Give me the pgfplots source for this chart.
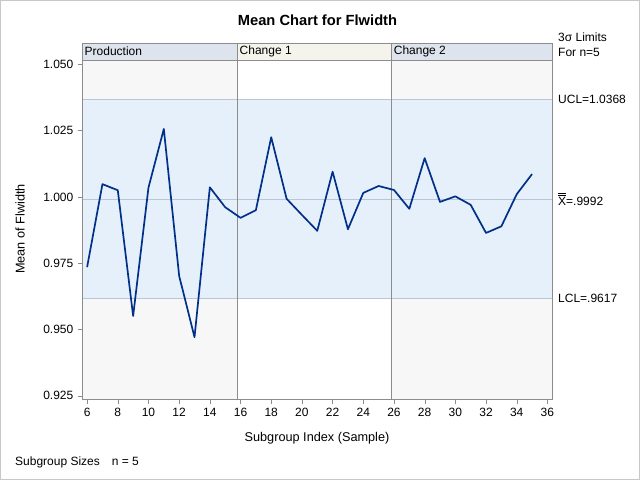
\documentclass[border=0pt]{standalone}
\usepackage{fontspec}
\setmainfont{Liberation Sans}
\usepackage{pgfplots}
\pgfplotsset{compat=1.18}
\definecolor{framegray}{RGB}{140,140,140}
\definecolor{outgray}{RGB}{247,247,247}
\definecolor{bandblue}{RGB}{230,240,251}
\definecolor{hdrblue}{RGB}{222,228,238}
\definecolor{hdrbeige}{RGB}{244,244,236}
\definecolor{limline}{RGB}{185,198,218}
\definecolor{sepgray}{RGB}{140,140,140}
\definecolor{dataline}{RGB}{0,48,135}
\definecolor{bordergray}{RGB}{200,200,200}
\begin{document}
\fontsize{12}{14}\selectfont
\begin{tikzpicture}[x=1pt,y=1pt]
\useasboundingbox (0,0) rectangle (640,480);
\draw[bordergray] (0.5,0.5) rectangle (639.5,479.5);
\begin{axis}[
  at={(82.5pt,81pt)}, anchor=south west,
  scale only axis, width=469.5pt, height=339pt,
  xmin=5.7, xmax=36.3, ymin=0.9238, ymax=1.0516,
  axis line style={color=framegray},
  xtick={6,8,10,12,14,16,18,20,22,24,26,28,30,32,34,36},
  ytick={0.925,0.95,0.975,1.0,1.025,1.05},
  xtick pos=bottom, ytick pos=left,
  tick align=outside, major tick length=5pt,
  tick style={color=framegray},
  /pgf/number format/assume math mode=true,
  yticklabel style={/pgf/number format/.cd, fixed, fixed zerofill, precision=3},
  ticklabel style={font=\fontsize{12}{14}\selectfont},
  clip=false, axis on top=true,
]
% panel backgrounds
\fill[outgray] (axis cs:5.7,0.9238) rectangle (axis cs:15.8,1.0516);
\fill[white] (axis cs:15.8,0.9238) rectangle (axis cs:25.85,1.0516);
\fill[outgray] (axis cs:25.85,0.9238) rectangle (axis cs:36.3,1.0516);
% control band
\fill[bandblue] (axis cs:5.7,0.9617) rectangle (axis cs:36.3,1.0368);
\draw[limline] (axis cs:5.7,0.9617) -- (axis cs:36.3,0.9617);
\draw[limline] (axis cs:5.7,1.0368) -- (axis cs:36.3,1.0368);
\draw[limline] (axis cs:5.7,0.9992) -- (axis cs:36.3,0.9992);
% phase separators
\draw[sepgray] (axis cs:15.8,0.9238) -- (axis cs:15.8,1.0516);
\draw[sepgray] (axis cs:25.85,0.9238) -- (axis cs:25.85,1.0516);
% header strip
\fill[hdrblue] (axis cs:5.7,1.0516) rectangle (axis cs:15.8,1.0580);
\fill[hdrbeige] (axis cs:15.8,1.0516) rectangle (axis cs:25.85,1.0580);
\fill[hdrblue] (axis cs:25.85,1.0516) rectangle (axis cs:36.3,1.0580);
\draw[framegray] (axis cs:5.7,1.0516) rectangle (axis cs:36.3,1.0580);
\draw[framegray] (axis cs:15.8,1.0516) -- (axis cs:15.8,1.0580);
\draw[framegray] (axis cs:25.85,1.0516) -- (axis cs:25.85,1.0580);
\node[anchor=west, inner sep=0pt, xshift=2pt] at (axis cs:5.7,1.0548) {Production};
\node[anchor=west, inner sep=0pt, xshift=2pt] at (axis cs:15.8,1.0548) {Change 1};
\node[anchor=west, inner sep=0pt, xshift=2pt] at (axis cs:25.85,1.0548) {Change 2};
% data
\addplot[dataline, line width=1.7pt, line join=round] coordinates {
(6,0.9735) (7,1.0048) (8,1.0025) (9,0.9551) (10,1.0035) (11,1.0256)
(12,0.9702) (13,0.9471) (14,1.0036) (15,0.9961) (16,0.9921) (17,0.9950)
(18,1.0225) (19,0.9993) (20,0.9932) (21,0.9872) (22,1.0095) (23,0.9878)
(24,1.0015) (25,1.0041) (26,1.0026) (27,0.9955) (28,1.0146) (29,0.9981)
(30,1.0002) (31,0.9970) (32,0.9864) (33,0.9889) (34,1.0010) (35,1.0086)
};
% right labels
\node[anchor=west, inner sep=0pt, xshift=6pt] at (axis cs:36.3,1.0368) {UCL=1.0368};
\node[anchor=west, inner sep=0pt, xshift=6pt] at (axis cs:36.3,0.9992) {$\overline{\overline{\mbox{X}}}$=.9992};
\node[anchor=west, inner sep=0pt, xshift=6pt] at (axis cs:36.3,0.9617) {LCL=.9617};
\end{axis}
\node[font=\fontsize{14.7}{17}\selectfont\bfseries] at (317.5,460) {Mean Chart for Flwidth};
\node[anchor=west, inner sep=0pt] at (558,443) {3σ Limits};
\node[anchor=west, inner sep=0pt] at (558,428) {For n=5};
\node[rotate=90, font=\fontsize{12.7}{15}\selectfont] at (20,251) {Mean of Flwidth};
\node[font=\fontsize{12.7}{15}\selectfont] at (317,42) {Subgroup Index (Sample)};
\node[anchor=west, inner sep=0pt] at (15,18) {Subgroup Sizes\hspace{12pt}n = 5};
\end{tikzpicture}
\end{document}
